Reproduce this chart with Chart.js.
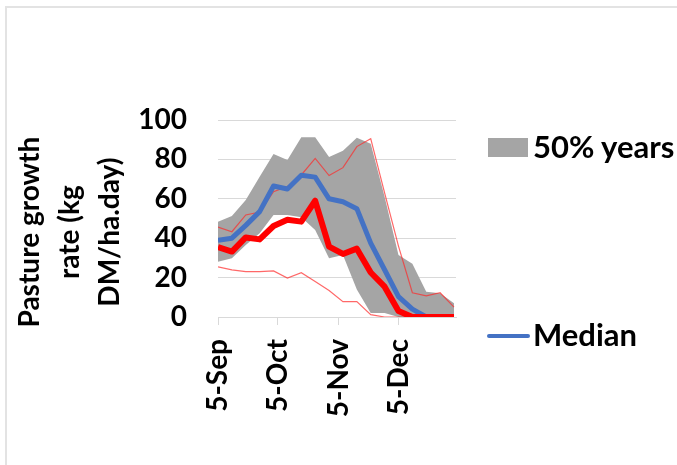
<!DOCTYPE html>
<html>
<head>
<meta charset="utf-8">
<script src="https://cdn.jsdelivr.net/npm/chart.js@4"></script>
<style>
  html, body { margin: 0; padding: 0; background: #fff; }
  #wrap { position: relative; width: 677px; height: 465px; overflow: hidden; }
  #frame { position: absolute; left: 5px; top: 6px; right: -10px; bottom: -10px; border-top: 2px solid #e3e3e3; border-left: 2px solid #e3e3e3; }
  canvas { position: absolute; left: 0; top: 0; }
  .lg { position: absolute; font-family: Lato, "Open Sans", sans-serif; font-weight: bold; font-size: 31px; color: #000; line-height: 1; white-space: nowrap; }
  .box { position: absolute; background: #a5a5a5; }
  .ln { position: absolute; background: #4472c4; border-radius: 2px; }
</style>
</head>
<body>
<div id="wrap">
  <div id="frame"></div>
  <canvas id="c" width="677" height="465"></canvas>
  <div class="box" style="left:488px; top:138px; width:40px; height:19px;"></div>
  <div class="lg" id="lg1" style="left:533px; top:131px;">50% years</div>
  <div class="ln" style="left:487px; top:334px; width:43px; height:4px;"></div>
  <div class="lg" id="lg2" style="left:533px; top:319px;">Median</div>
</div>
<script>
// day offsets from 5-Sep (weekly points)
const dayOffsets = [0, 7, 14, 21, 28, 35, 42, 49, 56, 63, 70, 77, 84, 91, 98, 105, 112, 119];
// x tick positions (days from 5-Sep) and labels
const tickDays = [0, 30, 61, 91];
const tickLabels = ['5-Sep', '5-Oct', '5-Nov', '5-Dec'];
const yTicks = [0, 20, 40, 60, 80, 100];

const upper50 = [48.4, 51.3, 59.4, 71.2, 82.7, 79.7, 91.2, 91.2, 81.2, 84.4, 91, 88, 61, 31.5, 27, 12.8, 12, 7];
const lower50 = [28.1, 29.8, 36.5, 42.5, 51.8, 51.8, 50.6, 44.2, 29.8, 31.5, 14, 2, 2, 0, 0, 0, 0, 0];
const maxLine = [45.6, 43.3, 51.8, 53.3, 63.6, 66.2, 72.1, 80.5, 71.8, 75.8, 86.5, 90.5, 63, 36, 12.3, 10.7, 12.3, 5];
const minLine = [25.5, 23.9, 23, 23, 23.4, 19.8, 22.5, 18, 13.4, 7.8, 7.8, 1.2, 0, 0, 0, 0, 0, 0];
const median = [39, 40, 46.5, 53.5, 66.5, 65, 72, 71, 60, 58.5, 55, 37.5, 24, 10.3, 4, 0, 0, 0];
const season = [35.5, 33.2, 40.4, 39.4, 46.2, 49.4, 48.4, 59, 35.7, 32, 34.7, 22.6, 15.4, 3, 0, 0, 0, 0];

const pts = arr => arr.map((v, i) => ({ x: dayOffsets[i], y: v }));

const FONT = 'Lato, "Open Sans", sans-serif';

new Chart(document.getElementById('c'), {
  type: 'line',
  data: {
    datasets: [
      { label: 'Season', data: pts(season), borderColor: '#ff0000', borderWidth: 6, pointRadius: 0, fill: false, order: 0, borderJoinStyle: 'round', borderCapStyle: 'butt' },
      { label: 'Median', data: pts(median), borderColor: '#4472c4', borderWidth: 5, pointRadius: 0, fill: false, order: 1, borderJoinStyle: 'round' },
      { label: 'Max', data: pts(maxLine), borderColor: 'rgba(255,40,40,0.7)', borderWidth: 1.2, pointRadius: 0, fill: false, order: 2 },
      { label: 'Min', data: pts(minLine), borderColor: 'rgba(255,40,40,0.7)', borderWidth: 1.2, pointRadius: 0, fill: false, order: 3 },
      { label: '50% years', data: pts(upper50), borderColor: 'rgba(0,0,0,0)', borderWidth: 0, backgroundColor: '#a5a5a5', pointRadius: 0, fill: 5, order: 4 },
      { label: 'lower', data: pts(lower50), borderColor: 'rgba(0,0,0,0)', borderWidth: 0, pointRadius: 0, fill: false, order: 5 }
    ]
  },
  options: {
    responsive: false,
    animation: false,
    events: [],
    layout: { padding: { left: 10, right: 221, top: 120, bottom: 0 } },
    plugins: { legend: { display: false }, tooltip: { enabled: false } },
    scales: {
      x: {
        type: 'linear',
        min: 0,
        max: 120,
        afterFit: s => { s.height = 148; },
        afterBuildTicks: s => { s.ticks = tickDays.map(v => ({ value: v })); },
        grid: { drawOnChartArea: false, drawTicks: true, tickLength: 8, color: '#d9d9d9', lineWidth: 1 },
        border: { display: true, color: '#d9d9d9', width: 1 },
        ticks: {
          minRotation: 90, maxRotation: 90, padding: 14, color: '#000',
          font: { family: FONT, size: 28, weight: 'bold' },
          callback: v => { const i = tickDays.indexOf(v); return i >= 0 ? tickLabels[i] : ''; }
        }
      },
      y: {
        min: 0,
        max: 100,
        afterFit: s => { s.width = 208; },
        afterBuildTicks: s => { s.ticks = yTicks.map(v => ({ value: v })); },
        grid: { color: '#d9d9d9', lineWidth: 1, drawTicks: false },
        border: { display: false },
        ticks: { padding: 31, color: '#000', font: { family: FONT, size: 28, weight: 'bold' } },
        title: {
          display: true,
          text: ['Pasture growth    ', 'rate (kg    ', 'DM/ha.day)    '],
          color: '#000',
          padding: { top: 0, bottom: 0 },
          font: { family: FONT, size: 28, weight: 'bold', lineHeight: '40px' }
        }
      }
    }
  }
});
</script>
</body>
</html>
